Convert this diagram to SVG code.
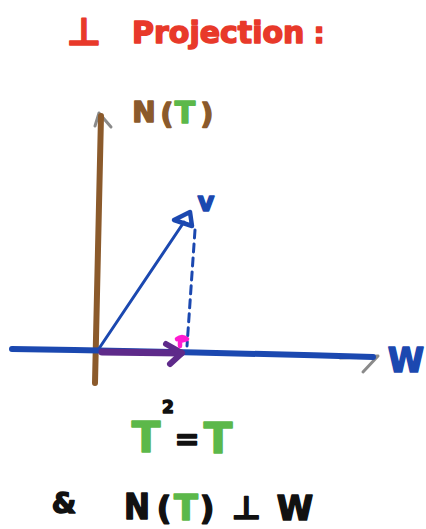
<svg xmlns="http://www.w3.org/2000/svg" width="426" height="529" viewBox="0 0 426 529">
<style>
.t{font-family:"DejaVu Sans","Liberation Sans",sans-serif;font-weight:bold;stroke-linejoin:round}
.red{fill:#e8392a;stroke:#e8392a;stroke-width:1.5}
.brown{fill:#8b5a2b;stroke:#8b5a2b;stroke-width:1.5}
.green{fill:#5cb84a;stroke:#5cb84a;stroke-width:1.5}
.blk{fill:#111;stroke:#111;stroke-width:1.5}
.blue{fill:#1b48b0;stroke:#1b48b0;stroke-width:1.5}
.ln{fill:none;stroke-linecap:round;stroke-linejoin:round}
</style>
<rect width="426" height="529" fill="#fff"/>
<g id="title">
<text class="t red" x="84" y="45" font-size="38" text-anchor="middle">⊥</text>
<text class="t red" x="132" y="43" font-size="30">Projection</text>
<text class="t red" x="319" y="43" font-size="28" text-anchor="middle">:</text>
</g>
<g id="connectors">
<!-- vertical axis N(T) -->
<path class="ln" d="M99,113 L95,126 M99,113 L111,127" stroke="#8a8a8a" stroke-width="3"/>
<path class="ln" d="M101,116 Q98,250 95,383" stroke="#8b5a2b" stroke-width="6"/>
<!-- horizontal axis W -->
<path class="ln" d="M340,358 L378,356 L363,372" stroke="#8a8a8a" stroke-width="3"/>
<path class="ln" d="M12,349 Q200,352 373,357" stroke="#1b48b0" stroke-width="6"/>
<!-- vector v -->
<path class="ln" d="M98,350 L184,222" stroke="#1b48b0" stroke-width="3"/>
<path class="ln" d="M174,220 L190,212 L192,226 Z" stroke="#1b48b0" stroke-width="4.5" fill="#fff"/>
<!-- dashed projection -->
<path class="ln" d="M195,230 L187,346" stroke="#1b48b0" stroke-width="3" stroke-dasharray="8 6" stroke-linecap="butt"/>
<!-- projection arrow -->
<path class="ln" d="M102,352 L181,353" stroke="#5e2a8a" stroke-width="7"/>
<path class="ln" d="M166,344 L182,353 L170,364" stroke="#5e2a8a" stroke-width="6"/>
<!-- right-angle mark -->
<path class="ln" d="M177,339 Q182,335 187,339 L180,341 L180,346" stroke="#ff1ad0" stroke-width="4.5" fill="#ff1ad0"/>
</g>
<g id="label-NT">
<text class="t brown" x="144" y="122" font-size="28" text-anchor="middle">N</text>
<text class="t brown" x="167" y="124" font-size="28" text-anchor="middle">(</text>
<text class="t green" x="185" y="123" font-size="30" text-anchor="middle">T</text>
<text class="t brown" x="207" y="124" font-size="28" text-anchor="middle">)</text>
</g>
<g id="label-v">
<text class="t blue" x="206" y="211" font-size="26" text-anchor="middle">v</text>
</g>
<g id="label-W">
<text class="t blue" x="406" y="372" font-size="33" text-anchor="middle">W</text>
</g>
<g id="eq1">
<text class="t green" x="146" y="452" font-size="42" text-anchor="middle">T</text>
<text class="t blk" x="168" y="413" font-size="17" text-anchor="middle">2</text>
<text class="t blk" x="187" y="449" font-size="30" text-anchor="middle">=</text>
<text class="t green" x="218" y="453" font-size="42" text-anchor="middle">T</text>
</g>
<g id="eq2">
<text class="t blk" x="64" y="513" font-size="28" text-anchor="middle">&amp;</text>
<text class="t blk" x="137" y="519" font-size="35" text-anchor="middle" textLength="26" lengthAdjust="spacingAndGlyphs">N</text>
<text class="t blk" x="164" y="519" font-size="32" text-anchor="middle">(</text>
<text class="t green" x="186" y="520" font-size="35" text-anchor="middle">T</text>
<text class="t blk" x="207" y="519" font-size="32" text-anchor="middle">)</text>
<text class="t blk" x="246" y="519" font-size="32" text-anchor="middle">⊥</text>
<text class="t blk" x="295" y="520" font-size="33" text-anchor="middle">W</text>
</g>
</svg>
